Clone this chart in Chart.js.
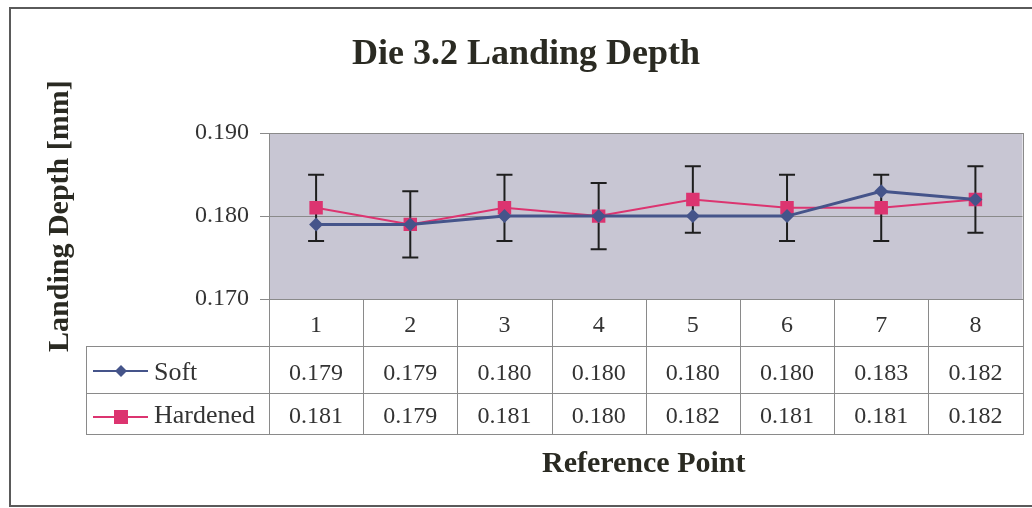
<!DOCTYPE html>
<html><head><meta charset="utf-8">
<script src="https://cdn.jsdelivr.net/npm/chart.js@4.4.1/dist/chart.umd.min.js"></script>
<style>html,body{margin:0;padding:0;background:#fff;} canvas{display:block;}</style>
</head><body>
<canvas id="c" width="1032" height="508"></canvas>
<script>
const CHART_TITLE = 'Die 3.2 Landing Depth';
const Y_TITLE = 'Landing Depth [mm]';
const X_TITLE = 'Reference Point';
const categories = ['1', '2', '3', '4', '5', '6', '7', '8'];
const seriesNames = ['Soft', 'Hardened'];
const softValues = [0.179, 0.179, 0.180, 0.180, 0.180, 0.180, 0.183, 0.182];
const hardenedValues = [0.181, 0.179, 0.181, 0.180, 0.182, 0.181, 0.181, 0.182];
const hardenedErrors = [0.004, 0.004, 0.004, 0.004, 0.004, 0.004, 0.004, 0.004];
const yTicks = [0.170, 0.180, 0.190];

const SERIF = "'Liberation Serif', 'Times New Roman', serif";
const SOFT_COLOR = '#45548a';
const HARD_COLOR = '#dc3470';
const TEXT_COLOR = '#2a2a22';
const GRID_COLOR = '#8a8a8a';
const PLOT_BG = '#c8c6d3';

const backgroundPlugin = {
  id: 'bg',
  beforeDraw(chart) {
    const {ctx, chartArea: a} = chart;
    ctx.save();
    ctx.fillStyle = '#ffffff';
    ctx.fillRect(0, 0, chart.width, chart.height);
    ctx.strokeStyle = '#5a5a5a';
    ctx.lineWidth = 2;
    ctx.strokeRect(10, 8, chart.width + 20, 498);
    ctx.fillStyle = PLOT_BG;
    ctx.fillRect(a.left, a.top, a.right - a.left, a.bottom - a.top);
    ctx.restore();
  },
  beforeDatasetsDraw(chart) {
    const {ctx, chartArea: a, scales: {x, y}} = chart;
    ctx.save();
    ctx.strokeStyle = GRID_COLOR;
    ctx.lineWidth = 1;
    ctx.strokeRect(Math.round(a.left) + 0.5, Math.round(a.top) + 0.5, Math.round(a.right - a.left), Math.round(a.bottom - a.top));
    // error bars for Hardened
    ctx.strokeStyle = '#1e1e1e';
    ctx.lineWidth = 2;
    const cap = 8;
    hardenedValues.forEach((v, i) => {
      const px = x.getPixelForValue(i);
      const yt = y.getPixelForValue(v + hardenedErrors[i]);
      const yb = y.getPixelForValue(v - hardenedErrors[i]);
      ctx.beginPath();
      ctx.moveTo(px, yt); ctx.lineTo(px, yb);
      ctx.moveTo(px - cap, yt); ctx.lineTo(px + cap, yt);
      ctx.moveTo(px - cap, yb); ctx.lineTo(px + cap, yb);
      ctx.stroke();
    });
    ctx.restore();
  }
};

const tablePlugin = {
  id: 'dataTable',
  afterDraw(chart) {
    const {ctx, chartArea: a, scales: {x}} = chart;
    const n = categories.length;
    const colW = (a.right - a.left) / n;
    const top = Math.round(a.bottom);
    const r1 = top + 47, r2 = top + 94, r3 = top + 135;
    const legLeft = 86;
    const right = Math.round(a.right);
    ctx.save();
    ctx.strokeStyle = GRID_COLOR;
    ctx.lineWidth = 1;
    ctx.beginPath();
    [r1, r2, r3].forEach(yy => { ctx.moveTo(legLeft, yy + 0.5); ctx.lineTo(right + 1, yy + 0.5); });
    ctx.moveTo(legLeft + 0.5, r1); ctx.lineTo(legLeft + 0.5, r3 + 1);
    for (let i = 0; i <= n; i++) {
      const xx = Math.round(a.left + i * colW) + 0.5;
      ctx.moveTo(xx, top); ctx.lineTo(xx, r3 + 1);
    }
    ctx.stroke();

    ctx.fillStyle = '#333';
    ctx.textAlign = 'center';
    ctx.textBaseline = 'alphabetic';
    ctx.font = '24px ' + SERIF;
    categories.forEach((c, i) => {
      const px = x.getPixelForValue(i);
      ctx.fillText(c, px, top + 33);
      ctx.fillText(softValues[i].toFixed(3), px, r1 + 34);
      ctx.fillText(hardenedValues[i].toFixed(3), px, r2 + 30);
    });

    // legend keys
    const keyY = [r1 + 25, r2 + 24];
    const colors = [SOFT_COLOR, HARD_COLOR];
    ctx.textAlign = 'left';
    ctx.font = '26px ' + SERIF;
    seriesNames.forEach((name, k) => {
      const ky = keyY[k];
      ctx.strokeStyle = colors[k];
      ctx.lineWidth = 2;
      ctx.beginPath(); ctx.moveTo(93, ky); ctx.lineTo(148, ky); ctx.stroke();
      ctx.fillStyle = colors[k];
      ctx.beginPath();
      if (k === 0) {
        ctx.moveTo(121, ky - 6); ctx.lineTo(127, ky); ctx.lineTo(121, ky + 6); ctx.lineTo(115, ky); ctx.closePath();
      } else {
        ctx.rect(114, ky - 7, 14, 14);
      }
      ctx.fill();
      ctx.fillStyle = '#333';
      ctx.fillText(name, 154, k === 0 ? r1 + 34 : r2 + 30);
    });

    // x axis title
    ctx.fillStyle = TEXT_COLOR;
    ctx.textAlign = 'center';
    ctx.font = 'bold 30px ' + SERIF;
    ctx.fillText(X_TITLE, (a.left + a.right) / 2 - 2, 472);
    ctx.restore();
  }
};

new Chart(document.getElementById('c'), {
  type: 'line',
  data: {
    labels: categories,
    datasets: [
      {
        label: seriesNames[0], data: softValues,
        borderColor: SOFT_COLOR, backgroundColor: SOFT_COLOR, borderWidth: 3,
        pointStyle: 'rectRot', pointRadius: 7, pointBorderWidth: 0, tension: 0
      },
      {
        label: seriesNames[1], data: hardenedValues,
        borderColor: HARD_COLOR, backgroundColor: HARD_COLOR, borderWidth: 2,
        pointStyle: 'rect', pointRadius: 9.5, pointBorderWidth: 0, tension: 0
      }
    ]
  },
  options: {
    responsive: false,
    devicePixelRatio: 1,
    animation: false,
    layout: {padding: {left: 27, right: 7, top: 0, bottom: 209}},
    plugins: {
      legend: {display: false},
      tooltip: {enabled: false},
      title: {
        display: true, text: CHART_TITLE, color: TEXT_COLOR,
        font: {family: SERIF, size: 36, weight: 'bold'},
        padding: {top: 33, bottom: 57}
      }
    },
    scales: {
      x: {type: 'category', display: false, offset: true},
      y: {
        min: 0.170, max: 0.190,
        afterBuildTicks: s => { s.ticks = yTicks.map(v => ({value: v})); },
        afterFit: s => { s.width = 269 - 27; },
        ticks: {
          callback: v => Number(v).toFixed(3),
          font: {family: SERIF, size: 24}, color: '#333', padding: 11
        },
        grid: {
          color: c => (c.tick && Math.abs(c.tick.value - 0.18) < 1e-9) ? GRID_COLOR : 'rgba(0,0,0,0)',
          tickColor: GRID_COLOR, tickLength: 9, drawTicks: true
        },
        border: {display: true, color: GRID_COLOR},
        title: {
          display: true, text: Y_TITLE, color: TEXT_COLOR,
          font: {family: SERIF, size: 30, weight: 'bold'},
          padding: {top: 15, bottom: 0}
        }
      }
    }
  },
  plugins: [backgroundPlugin, tablePlugin]
});
</script>
</body></html>
